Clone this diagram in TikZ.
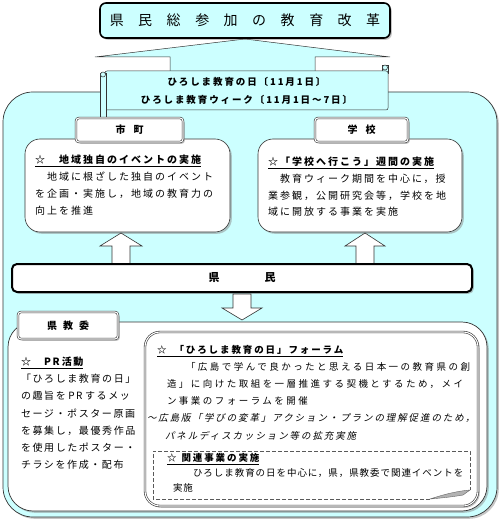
\documentclass[tikz,border=0pt]{standalone}
\usepackage{fontspec}
\setmainfont{Noto Sans CJK JP}
\newfontfamily\jpa[LetterSpace=20]{Noto Sans CJK JP}
\newfontfamily\jpb[LetterSpace=16]{Noto Sans CJK JP}
\newfontfamily\jpc[LetterSpace=10]{Noto Sans CJK JP}
\newfontfamily\jpd[LetterSpace=26]{Noto Sans CJK JP}
\newfontfamily\jpi[LetterSpace=20,FakeSlant=0.2]{Noto Sans CJK JP}
\usetikzlibrary{shadows}
\definecolor{boxcyan}{HTML}{CCFFFF}
\begin{document}
\begin{tikzpicture}[x=1pt,y=-1pt,
  panel/.style={draw=black!80, rectangle, anchor=north west, inner sep=0pt, outer sep=0pt},
  shad/.style={drop shadow={shadow xshift=1.8pt,shadow yshift=-1.8pt,fill=black!45}},
  dbl/.style={double=white, double distance=1.1pt, line width=0.6pt},
  txt/.style={anchor=north west, inner sep=0pt, outer sep=0pt, align=left},
  blockarrow/.style={draw=black!80, fill=white, line width=0.6pt, line join=miter}
]
\useasboundingbox (0,0) rectangle (500,521);

% outer cyan panel
\node[panel, fill=boxcyan, line width=0.7pt, rounded corners=30pt,
      minimum width=494pt, minimum height=425pt, shad] (outer) at (3,92) {};

% trapezoid under title
\fill[boxcyan] (245,39) -- (390,57) -- (315,57) -- (315,73) -- (170,73) -- (170,57) -- (95,57) -- cycle;
\draw[black!80, line width=0.5pt] (170,72) -- (170,57) -- (95,57) -- (245,39) -- (390,57) -- (315,57) -- (315,72);

% title
\node[panel, fill=boxcyan, draw=black, line width=1.6pt, rounded corners=6pt,
      minimum width=290pt, minimum height=35pt, shad,
      font=\fontsize{14}{14}\selectfont] (title) at (100,3)
  {県\hspace{14.5pt}民\hspace{14.5pt}総\hspace{14.5pt}参\hspace{14.5pt}加\hspace{14.5pt}の\hspace{14.5pt}教\hspace{14.5pt}育\hspace{14.5pt}改\hspace{14.5pt}革};

% scroll banner
\filldraw[fill=boxcyan, draw=black!80, line width=0.5pt] (382,65) rectangle (388,73);
\node[panel, fill=boxcyan, line width=0.5pt, rounded corners=2pt,
      minimum width=283pt, minimum height=39pt, align=center,
      font=\jpa\bfseries\fontsize{9.5}{18}\selectfont] (banner) at (105,71)
  {ひろしま教育の日〔11月1日〕\\ひろしま教育ウィーク〔11月1日～7日〕};
\filldraw[fill=boxcyan, draw=black!80, line width=0.5pt] (385,67.5) circle (2.5);
\filldraw[fill=boxcyan, draw=black!80, line width=0.5pt] (100,73) rectangle (106,117);
\filldraw[fill=boxcyan, draw=black!80, line width=0.5pt] (103,74.5) circle (2.5);

% left callout (市町)
\node[panel, fill=white, line width=0.6pt, rounded corners=15pt,
      minimum width=205pt, minimum height=93pt, shad] (lcall) at (25,139) {};
\node[panel, fill=white, dbl, rounded corners=3pt, minimum width=107pt,
      minimum height=24pt, shad, font=\bfseries\fontsize{10}{10}\selectfont] (shicho) at (76,118) {市\hspace{8pt}町};
\node[txt, font=\jpa\fontsize{10}{17}\selectfont] (ltext) at (35,155)
  {\textbf{\underline{☆　地域独自のイベントの実施}}\\　地域に根ざした独自のイベント\\を企画・実施し，地域の教育力の\\向上を推進};

% right callout (学校)
\node[panel, fill=white, line width=0.6pt, rounded corners=15pt,
      minimum width=204pt, minimum height=93pt, shad] (rcall) at (258,139) {};
\node[panel, fill=white, dbl, rounded corners=3pt, minimum width=93pt,
      minimum height=24pt, shad, font=\bfseries\fontsize{10}{10}\selectfont] (gakko) at (315,118) {学\hspace{8pt}校};
\node[txt, font=\jpa\fontsize{10}{16.7}\selectfont] (rtext) at (268,157)
  {\textbf{\underline{☆「学校へ行こう」週間の実施}}\\　教育ウィーク期間を中心に，授\\業参観，公開研究会等，学校を地\\域に開放する事業を実施};

% up arrows
\filldraw[blockarrow] (112,265) -- (112,246) -- (100,246) -- (121,233) -- (142,246) -- (130,246) -- (130,265) -- cycle;
\filldraw[blockarrow] (356,265) -- (356,246) -- (345,246) -- (365,233) -- (385,246) -- (374,246) -- (374,265) -- cycle;

% 県民 bar
\node[panel, fill=white, draw=black, line width=2pt, rounded corners=5pt,
      minimum width=460pt, minimum height=28pt, shad,
      font=\bfseries\fontsize{11}{11}\selectfont] (kenmin) at (12,264) {県\hspace{45pt}民};

% down arrow
\filldraw[blockarrow] (233,294) -- (251,294) -- (251,308) -- (262,308) -- (242,320) -- (222,308) -- (233,308) -- cycle;

% lower white panel
\node[panel, fill=white, line width=0.7pt, rounded corners=25pt,
      minimum width=479pt, minimum height=189pt, shad] (lower) at (8,322) {};
\node[panel, fill=white, dbl, rounded corners=3pt, minimum width=100pt,
      minimum height=27pt, shad, font=\bfseries\fontsize{10}{10}\selectfont] (kenkyoi) at (18,312) {県\hspace{6pt}教\hspace{6pt}委};
\node[txt, font=\jpb\fontsize{10}{17.2}\selectfont] (prtext) at (21,357)
  {\textbf{\underline{☆　PR\hspace{2pt}活動}}\\「ひろしま教育の日」\\の趣旨を\hspace{2.5pt}PR\hspace{2.5pt}するメッ\\セージ・ポスター原画\\を募集し，最優秀作品\\を使用したポスター・\\チラシを作成・配布};

% forum panel
\node[panel, fill=white, dbl, rounded corners=15pt, minimum width=333pt,
      minimum height=174pt, shad] (forum) at (145,332) {};
\node[txt, font=\jpa\bfseries\fontsize{9.5}{17}\selectfont] (fhead) at (157,345.5)
  {\underline{☆\hspace{8pt}「ひろしま教育の日」フォーラム}};
\node[txt, font=\jpd\fontsize{9.5}{17}\selectfont] (fbody) at (167,362.5)
  {\hspace{19pt}「広島で学んで良かったと思える日本一の教育県の創\\造」に向けた取組を一層推進する契機とするため，メイ\\ン事業のフォーラムを開催};
\node[txt, font=\jpi\fontsize{9.5}{18}\selectfont] (fital) at (147,413.5)
  {～広島版「学びの変革」アクション・プランの理解促進のため，\\\hspace{18pt}パネルディスカッション等の拡充実施};

% dashed related-events box
\coordinate (dnw) at (153,451);
\draw[black!65, line width=0.6pt, dash pattern=on 4pt off 2pt]
  (430,499) -- (153,499) -- (dnw) -- (470,451) -- (470,490);
\filldraw[fill=black!30, draw=black!60, line width=0.4pt]
  (430,499) .. controls (445,494) and (458,491) .. (470,490) -- (463,495) .. controls (452,497) and (441,498) .. cycle;
\node[txt, font=\jpa\bfseries\fontsize{9.5}{15}\selectfont] (dhead) at (167,453.5)
  {\underline{☆\hspace{5pt}関連事業の実施}};
\node[txt, font=\jpc\fontsize{9.5}{15}\selectfont] (dbody) at (173,468.5)
  {\hspace{20pt}ひろしま教育の日を中心に，県，県教委で関連イベントを\\実施};
\end{tikzpicture}
\end{document}
